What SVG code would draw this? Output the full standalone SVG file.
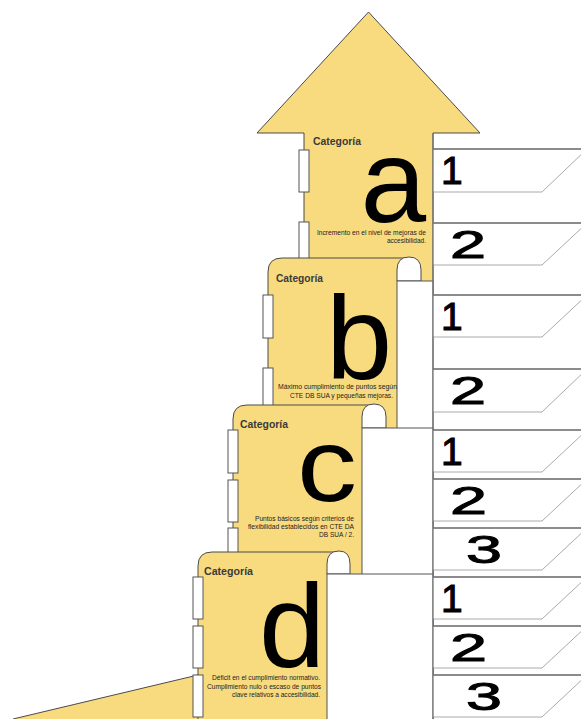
<svg xmlns="http://www.w3.org/2000/svg" width="581" height="719" viewBox="0 0 581 719">
<style>
.y{fill:#f9db7f;stroke:none}
.ol{fill:none;stroke:#4a4a4a;stroke-width:1}
.arch{fill:#fff;stroke:#4a4a4a;stroke-width:1}
.blk{fill:#fff;stroke:#555;stroke-width:1}
.tab{fill:#fff;stroke:#555;stroke-width:1}
.cat{font-family:"Liberation Sans",Arial,sans-serif;font-size:10.5px;font-weight:bold;fill:#3a3a3a}
.big{font-family:"Liberation Sans",Arial,sans-serif;fill:#000}
.desc{font-family:"Liberation Sans",Arial,sans-serif;font-size:6.6px;fill:#222}
.num{font-family:"Liberation Sans",Arial,sans-serif;font-size:39px;fill:#000;stroke:#000;stroke-width:1}
.bx{fill:#fff;stroke:none}
.bt{stroke:#666;stroke-width:1.3;fill:none}
.bb{stroke:#aaa;stroke-width:1;fill:none}
</style>
<rect width="581" height="719" fill="#fff"/>

<g id="cat-a">
<path class="y" d="M304,300 V133 H257 L368.5,12 L480,133 H433 V300 Z"/>
<path class="ol" d="M304,300 V133 H257 L368.5,12 L480,133 H433 V300"/>
<rect class="tab" x="299" y="150" width="10" height="42"/>
<rect class="tab" x="299" y="222" width="10" height="40"/>
<text class="cat" x="313" y="145" textLength="48" lengthAdjust="spacingAndGlyphs">Categoría</text>
<text class="big" x="360.5" y="222" font-size="118">a</text>
<text class="desc" x="317" y="235" textLength="109" lengthAdjust="spacingAndGlyphs">Incremento en el nivel de mejoras de</text>
<text class="desc" x="387" y="243" textLength="39" lengthAdjust="spacingAndGlyphs">accesibilidad.</text>
</g>

<g id="cat-b">
<path class="y" d="M268,719 V272 Q268,258 282,258 H409 V719 Z"/>
<path class="ol" d="M268,719 V272 Q268,258 282,258 H409"/>
<path class="arch" d="M397,281 V270 Q397,257 409,257 Q421,257 421,270 V281 Z"/>
<rect class="blk" x="397" y="281" width="36" height="438"/>
<rect class="tab" x="263" y="295" width="10" height="43"/>
<rect class="tab" x="263" y="368" width="10" height="43"/>
<text class="cat" x="276" y="282" textLength="47" lengthAdjust="spacingAndGlyphs">Categoría</text>
<text class="big" x="326" y="379" font-size="119">b</text>
<text class="desc" x="278" y="389" textLength="119" lengthAdjust="spacingAndGlyphs">Máximo cumplimiento de puntos según</text>
<text class="desc" x="290" y="398" textLength="103" lengthAdjust="spacingAndGlyphs">CTE DB SUA y pequeñas mejoras.</text>
</g>

<g id="cat-c">
<path class="y" d="M233,719 V419 Q233,405 247,405 H374 V719 Z"/>
<path class="ol" d="M233,719 V419 Q233,405 247,405 H374"/>
<path class="arch" d="M362,428 V417 Q362,404 374,404 Q386,404 386,417 V428 Z"/>
<rect class="blk" x="362" y="428" width="71" height="291"/>
<rect class="tab" x="228" y="430" width="10" height="43"/>
<rect class="tab" x="228" y="480" width="10" height="42"/>
<rect class="tab" x="228" y="528" width="10" height="42"/>
<text class="cat" x="240" y="428" textLength="48" lengthAdjust="spacingAndGlyphs">Categoría</text>
<text class="big" x="297" y="500.5" font-size="103" textLength="60" lengthAdjust="spacingAndGlyphs">c</text>
<text class="desc" x="255" y="521" textLength="99" lengthAdjust="spacingAndGlyphs">Puntos básicos según criterios de</text>
<text class="desc" x="248" y="529" textLength="106" lengthAdjust="spacingAndGlyphs">flexibilidad establecidos en CTE DA</text>
<text class="desc" x="319" y="537" textLength="35" lengthAdjust="spacingAndGlyphs">DB SUA / 2.</text>
</g>

<g id="ramp">
<path class="y" d="M13,719 L198,675 V719 Z"/>
<path class="ol" d="M13,719 L198,675"/>
</g>

<g id="cat-d">
<path class="y" d="M198,719 V566 Q198,552 212,552 H339 V719 Z"/>
<path class="ol" d="M198,719 V566 Q198,552 212,552 H339"/>
<path class="arch" d="M327,574 V564 Q327,551 339,551 Q350,551 350,564 V574 Z"/>
<rect class="blk" x="327" y="574" width="106" height="150"/>
<rect class="tab" x="193" y="577" width="10" height="42"/>
<rect class="tab" x="193" y="626" width="10" height="42"/>
<rect class="tab" x="193" y="675" width="10" height="42"/>
<text class="cat" x="204" y="575" textLength="49" lengthAdjust="spacingAndGlyphs">Categoría</text>
<text class="big" x="259" y="667" font-size="119">d</text>
<text class="desc" x="212" y="680" textLength="108" lengthAdjust="spacingAndGlyphs">Déficit en el cumplimiento normativo.</text>
<text class="desc" x="207" y="689" textLength="114" lengthAdjust="spacingAndGlyphs">Cumplimiento nulo o escaso de puntos</text>
<text class="desc" x="232" y="697" textLength="88" lengthAdjust="spacingAndGlyphs">clave relativos a accesibilidad.</text>
</g>

<g id="levels">
<g id="a1"><path class="bx" d="M433,149 H587 L542,192 H433 Z"/><path class="bt" d="M433,149 H587"/><path class="bb" d="M433,192 H542 L587,149"/><text class="num" x="441" y="184">1</text></g>
<g id="a2"><path class="bx" d="M433,223 H587 L542,265 H433 Z"/><path class="bt" d="M433,223 H587"/><path class="bb" d="M433,265 H542 L587,223"/><text class="num" x="450" y="258" textLength="36" lengthAdjust="spacingAndGlyphs">2</text></g>
<g id="b1"><path class="bx" d="M433,295 H587 L542,337 H433 Z"/><path class="bt" d="M433,295 H587"/><path class="bb" d="M433,337 H542 L587,295"/><text class="num" x="441" y="330">1</text></g>
<g id="b2"><path class="bx" d="M433,369 H587 L542,412 H433 Z"/><path class="bt" d="M433,369 H587"/><path class="bb" d="M433,412 H542 L587,369"/><text class="num" x="450" y="404" textLength="36" lengthAdjust="spacingAndGlyphs">2</text></g>
<g id="c1"><path class="bx" d="M433,430 H587 L542,472 H433 Z"/><path class="bt" d="M433,430 H587"/><path class="bb" d="M433,472 H542 L587,430"/><text class="num" x="441" y="465">1</text></g>
<g id="c2"><path class="bx" d="M433,479 H587 L542,521 H433 Z"/><path class="bt" d="M433,479 H587"/><path class="bb" d="M433,521 H542 L587,479"/><text class="num" x="450" y="514" textLength="37" lengthAdjust="spacingAndGlyphs">2</text></g>
<g id="c3"><path class="bx" d="M433,528 H587 L542,570 H433 Z"/><path class="bt" d="M433,528 H587"/><path class="bb" d="M433,570 H542 L587,528"/><text class="num" x="466" y="563" textLength="36" lengthAdjust="spacingAndGlyphs">3</text></g>
<g id="d1"><path class="bx" d="M433,577 H587 L542,619 H433 Z"/><path class="bt" d="M433,577 H587"/><path class="bb" d="M433,619 H542 L587,577"/><text class="num" x="441" y="612">1</text></g>
<g id="d2"><path class="bx" d="M433,626 H587 L542,668 H433 Z"/><path class="bt" d="M433,626 H587"/><path class="bb" d="M433,668 H542 L587,626"/><text class="num" x="450" y="661" textLength="37" lengthAdjust="spacingAndGlyphs">2</text></g>
<g id="d3"><path class="bx" d="M433,675 H587 L542,717 H433 Z"/><path class="bt" d="M433,675 H587"/><path class="bb" d="M433,717 H542 L587,675"/><text class="num" x="466" y="710" textLength="36" lengthAdjust="spacingAndGlyphs">3</text></g>
<path d="M433,133 V719" stroke="#777" stroke-width="1.3" fill="none"/>
</g>
</svg>
